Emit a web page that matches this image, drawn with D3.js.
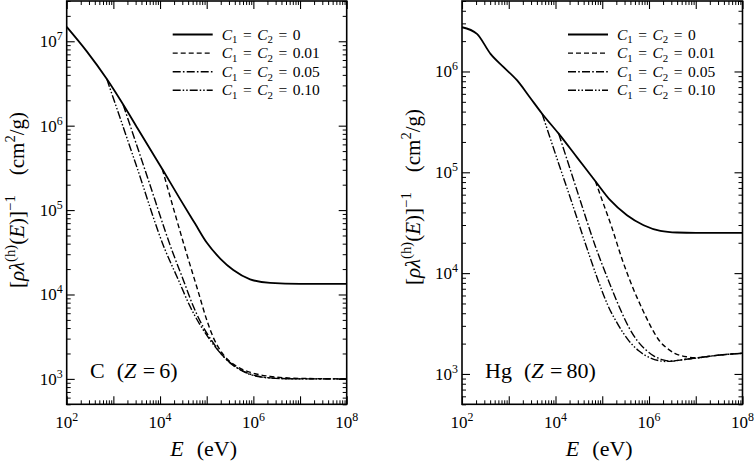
<!DOCTYPE html>
<html>
<head>
<meta charset="utf-8">
<script src="https://cdn.jsdelivr.net/npm/d3@7"></script>
<style>
  body { margin: 0; background: #fff; }
  svg text { font-family: "Liberation Serif", "DejaVu Serif", serif; fill: #000; }
</style>
</head>
<body>
<svg id="chart" width="754" height="462"></svg>
<script>
// ---------------- DATA (pairs are [log10 E(eV), log10 value(cm^2/g)]) ----------------
const legendValues = ["0", "0.01", "0.05", "0.10"];
const xLabelExps = [2, 4, 6, 8];
const xMajorExps = [2, 3, 4, 5, 6, 7, 8];

// Carbon (Z = 6)
const carbon_C0 = [[2,7.17],[2.43,6.88],[2.86,6.552],[3.23,6.232],[3.5,5.985],[3.79,5.72],[4.07,5.465],[4.43,5.13],[4.75,4.84],[5.0,4.615],[5.3,4.42],[5.57,4.29],[5.93,4.18],[6.36,4.137],[7,4.125],[8,4.125]];
const carbon_C001 = [[4.05,5.483],[4.556,4.51],[4.82,4.03],[5.0,3.70],[5.15,3.48],[5.3,3.33],[5.45,3.23],[5.7,3.13],[5.95,3.075],[6.36,3.03],[7,3.006],[8,3.0]];
const carbon_C005 = [[3.21,6.249],[3.73,5.39],[4.25,4.532],[4.5,4.17],[4.713,3.86],[4.93,3.61],[5.141,3.427],[5.32,3.29],[5.5,3.19],[5.75,3.10],[6.07,3.035],[6.57,3.005],[7,3.0],[8,3.0]];
const carbon_C010 = [[2.86,6.552],[3.485,5.539],[4.106,4.532],[4.391,4.176],[4.642,3.86],[5.07,3.462],[5.355,3.268],[5.713,3.11],[6.071,3.031],[6.571,3.004],[7,3.0],[8,3.0]];

// Mercury (Z = 80)
const mercury_C0 = [[2,6.439],[2.32,6.373],[2.61,6.175],[2.89,6.043],[3.18,5.911],[3.45,5.745],[3.714,5.581],[4.068,5.383],[4.46,5.148],[4.854,4.911],[5.171,4.723],[5.529,4.574],[5.885,4.475],[6.243,4.419],[6.6,4.403],[7,4.40],[8,4.40]];
const mercury_C001 = [[4.854,4.911],[5.0,4.72],[5.2,4.46],[5.43,4.13],[5.65,3.86],[5.87,3.63],[6.05,3.46],[6.21,3.337],[6.4,3.25],[6.55,3.205],[6.8,3.17],[7.0,3.16],[7.2,3.17],[7.5,3.187],[8,3.205]];
const mercury_C005 = [[4.068,5.383],[4.3,5.05],[4.55,4.69],[4.85,4.27],[5.13,3.93],[5.35,3.68],[5.56,3.47],[5.75,3.33],[5.93,3.24],[6.1,3.18],[6.3,3.14],[6.45,3.127],[6.7,3.14],[7.0,3.157],[7.5,3.187],[8,3.205]];
const mercury_C010 = [[3.714,5.581],[4.0,5.18],[4.35,4.70],[4.62,4.32],[4.91,3.93],[5.12,3.68],[5.35,3.48],[5.55,3.34],[5.78,3.23],[6.0,3.165],[6.23,3.13],[6.35,3.124],[6.5,3.127],[6.7,3.14],[7.0,3.157],[7.5,3.187],[8,3.205]];

const carbonYExps = [3, 4, 5, 6, 7];
const mercuryYExps = [3, 4, 5, 6];

// ---------------- LAYOUT / STYLE ----------------
const FONT = "'Liberation Serif', 'DejaVu Serif', serif";
const svg = d3.select("#chart");
const plotTop = 1, plotBottom = 404.3;
const dashes = ["none", "5,3", "8,2.2,1.6,2.2", "8,2,1.5,2,1.5,2"];
const widths = [1.8, 1.4, 1.4, 1.4];

const panels = [
  { key: "C", x0: 66.7, x1: 346.7, yDomain: [500, 3e7], yExps: carbonYExps,
    series: [carbon_C0, carbon_C001, carbon_C005, carbon_C010],
    label: [{t:"C"},{t:"(",dx:12},{t:"Z",i:1},{t:"=",dx:6.5},{t:"6)",dx:4}],
    labelX: 90, yTitleX: 24, yTitleY: 200 },
  { key: "Hg", x0: 462, x1: 742.5, yDomain: [500, 5e6], yExps: mercuryYExps,
    series: [mercury_C0, mercury_C001, mercury_C005, mercury_C010],
    label: [{t:"Hg"},{t:"(",dx:12},{t:"Z",i:1},{t:"=",dx:6.5},{t:"80)",dx:4}],
    labelX: 485, yTitleX: 420, yTitleY: 197 }
];

function richText(sel, x, y, parts, size, anchor) {
  const t = sel.append("text").attr("x", x).attr("y", y)
    .attr("font-family", FONT)
    .attr("font-size", size).attr("text-anchor", anchor || "start");
  let cur = 0;
  parts.forEach(p => {
    const shift = p.sup ? -size * 0.42 : (p.sub ? size * 0.25 : 0);
    const ts = t.append("tspan").text(p.t).attr("dy", shift - cur);
    cur = shift;
    if (p.i) ts.attr("font-style", "italic");
    if (p.sup || p.sub) ts.attr("font-size", size * 0.7);
    if (p.dx) ts.attr("dx", p.dx);
  });
  return t;
}

function minorVals(lo, hi) {
  const v = [];
  for (let e = Math.floor(Math.log10(lo)) - 1; e <= Math.ceil(Math.log10(hi)); e++) {
    for (let m = 2; m <= 9; m++) {
      const val = m * Math.pow(10, e);
      if (val >= lo * 0.999 && val <= hi * 1.001) v.push(val);
    }
  }
  return v;
}

panels.forEach((P, pi) => {
  const x = d3.scaleLog().domain([1e2, 1e8]).range([P.x0, P.x1]);
  const y = d3.scaleLog().domain(P.yDomain).range([plotBottom, plotTop]);
  const g = svg.append("g");

  const xMaj = xMajorExps.map(e => Math.pow(10, e));
  const xMin = minorVals(1e2, 1e8);
  const yMaj = d3.range(3, 8).map(e => Math.pow(10, e)).filter(v => v >= P.yDomain[0] && v <= P.yDomain[1]);
  const yMin = minorVals(P.yDomain[0], P.yDomain[1]);

  const axes = [
    [() => d3.axisBottom(x), `translate(0,${plotBottom})`, xMaj, xMin],
    [() => d3.axisTop(x), `translate(0,${plotTop})`, xMaj, xMin],
    [() => d3.axisLeft(y), `translate(${P.x0},0)`, yMaj, yMin],
    [() => d3.axisRight(y), `translate(${P.x1},0)`, yMaj, yMin]
  ];
  axes.forEach(([mk, tr, maj, min]) => {
    const a1 = g.append("g").attr("transform", tr)
      .call(mk().tickValues(maj).tickSize(-8).tickSizeOuter(0).tickFormat(""));
    a1.select(".domain").remove();
    a1.selectAll("line").attr("stroke", "#000").attr("stroke-width", 1.1);
    const a2 = g.append("g").attr("transform", tr)
      .call(mk().tickValues(min).tickSize(-4).tickSizeOuter(0).tickFormat(""));
    a2.select(".domain").remove();
    a2.selectAll("line").attr("stroke", "#000").attr("stroke-width", 1);
  });

  // frame
  g.append("rect").attr("x", P.x0).attr("y", plotTop)
    .attr("width", P.x1 - P.x0).attr("height", plotBottom - plotTop)
    .attr("fill", "none").attr("stroke", "#000").attr("stroke-width", 1.6);

  // x tick labels
  xLabelExps.forEach(e => {
    richText(g, x(Math.pow(10, e)), 428, [{t:"10"},{t:String(e),sup:1}], 17, "middle");
  });
  // y tick labels
  P.yExps.forEach(e => {
    richText(g, P.x0 - 4, y(Math.pow(10, e)) + 6, [{t:"10"},{t:String(e),sup:1}], 17, "end");
  });

  // x title
  richText(g, (P.x0 + P.x1) / 2 - 3, 456, [{t:"E",i:1},{t:"(eV)",dx:13}], 22, "middle");

  // y title
  const yt = g.append("g").attr("transform", `translate(${P.yTitleX},${P.yTitleY}) rotate(-90)`);
  richText(yt, 0, 0, [
    {t:"["},{t:"ρλ",i:1},{t:"(h)",sup:1},{t:"("},{t:"E",i:1},{t:")]"},{t:"−1",sup:1},
    {t:"(cm",dx:20},{t:"2",sup:1},{t:"/g)"}
  ], 21, "middle");

  // clip
  const clipId = "clip" + pi;
  svg.append("clipPath").attr("id", clipId).append("rect")
    .attr("x", P.x0).attr("y", plotTop).attr("width", P.x1 - P.x0).attr("height", plotBottom - plotTop);

  const line = d3.line()
    .x(d => x(Math.pow(10, d[0])))
    .y(d => y(Math.pow(10, d[1])))
    .curve(d3.curveMonotoneX);

  const lg = g.append("g").attr("clip-path", `url(#${clipId})`);
  P.series.forEach((s, i) => {
    lg.append("path").datum(s).attr("d", line)
      .attr("fill", "none").attr("stroke", "#000")
      .attr("stroke-width", widths[i]).attr("stroke-dasharray", dashes[i]);
  });

  // legend
  legendValues.forEach((v, i) => {
    const ly = 34.5 + i * 18.6;
    g.append("line").attr("x1", P.x0 + 106).attr("x2", P.x0 + 146)
      .attr("y1", ly).attr("y2", ly).attr("stroke", "#000")
      .attr("stroke-width", widths[i]).attr("stroke-dasharray", dashes[i]);
    richText(g, P.x0 + 155, ly + 5, [
      {t:"C",i:1},{t:"1",sub:1},{t:"=",dx:5.5},{t:"C",i:1,dx:5.5},{t:"2",sub:1},{t:"=",dx:5.5},{t:v,dx:5.5}
    ], 15.5, "start");
  });

  // panel label
  richText(g, P.labelX, 378, P.label, 22, "start");
});
</script>
</body>
</html>
